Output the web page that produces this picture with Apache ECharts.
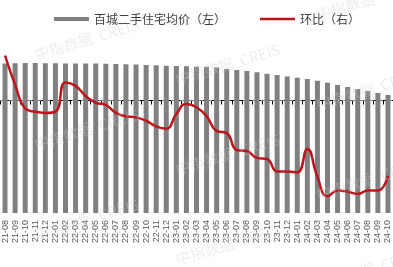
<!DOCTYPE html>
<html>
<head>
<meta charset="utf-8">
<script src="https://cdn.jsdelivr.net/npm/echarts@6/dist/echarts.min.js"></script>
<style>
html,body{margin:0;padding:0;background:#fff;}
#c{width:393px;height:267px;}
</style>
</head>
<body>
<div id="c"></div>
<script>
var categories = ['21-08','21-09','21-10','21-11','21-12','22-01','22-02','22-03','22-04','22-05','22-06','22-07','22-08','22-09','22-10','22-11','22-12','23-01','23-02','23-03','23-04','23-05','23-06','23-07','23-08','23-09','23-10','23-11','23-12','24-01','24-02','24-03','24-04','24-05','24-06','24-07','24-08','24-09','24-10'];
var priceValues = [16310,16320,16330,16330,16320,16320,16310,16310,16300,16300,16290,16280,16260,16250,16220,16210,16180,16170,16150,16130,16130,16090,16000,15940,15890,15820,15740,15670,15590,15520,15440,15350,15240,15110,15000,14890,14780,14670,14560];
var momValues = [0.40,0.14,-0.07,-0.10,-0.11,-0.10,0.16,0.13,0.04,-0.02,-0.04,-0.11,-0.14,-0.15,-0.18,-0.23,-0.25,-0.12,-0.03,-0.06,-0.14,-0.27,-0.29,-0.44,-0.45,-0.51,-0.52,-0.63,-0.63,-0.64,-0.43,-0.68,-0.85,-0.80,-0.81,-0.83,-0.80,-0.80,-0.67];
var seriesNames = ['百城二手住宅均价（左）','环比（右）'];
var watermarkText = '中指数据  CREIS';

var chart = echarts.init(document.getElementById('c'), null, {renderer:'canvas'});

var wm = [];
var starts = [[37,62],[178,87],[319,112]];
for (var i = 0; i < starts.length; i++) {
  for (var j = -1; j <= 2; j++) {
    wm.push({
      type:'text', x: starts[i][0], y: starts[i][1] + 90*j, rotation: 0.29, z: 100,
      silent:true,
      style:{text: watermarkText, x:0, y:0, fill:'rgba(205,205,205,0.35)', font:'15px "Noto Sans CJK SC", sans-serif', textVerticalAlign:'bottom'}
    });
  }
}

chart.setOption({
  animation:false,
  backgroundColor:'#fff',
  textStyle:{fontFamily:'"Noto Sans CJK SC", "Liberation Sans", sans-serif'},
  legend:{
    left:49, top:8, itemWidth:35, itemHeight:4, itemGap:34,
    textStyle:{fontSize:12, color:'#404040', fontFamily:'"Noto Sans CJK SC", sans-serif'},
    data:[
      {name:seriesNames[0], icon:'rect'},
      {name:seriesNames[1], icon:'path://M0,0H35V2.5H0Z', itemStyle:{color:'#c0141c'}}
    ]
  },
  grid:{left:-3, right:-4, top:33, bottom:54},
  xAxis:{
    type:'category', data:categories, boundaryGap:true,
    axisLine:{lineStyle:{color:'#000', width:1}},
    axisTick:{show:true, length:4, lineStyle:{color:'#000'}},
    axisLabel:{rotate:90, interval:0, fontSize:9, color:'#595959', margin:7, fontFamily:'"Liberation Sans", Arial, sans-serif'}
  },
  yAxis:[
    {type:'value', min:8000, max:18000, show:false, splitLine:{show:false}},
    {type:'value', min:-1, max:0.6, show:false, splitLine:{show:false}}
  ],
  series:[
    {name:seriesNames[0], type:'bar', data:priceValues, yAxisIndex:0, barWidth:5, itemStyle:{color:'#808080'}},
    {name:seriesNames[1], type:'line', data:momValues, yAxisIndex:1, smooth:true, symbol:'none',
     lineStyle:{color:'#c0141c', width:2.5}, itemStyle:{color:'#c0141c'}, z:5,
     markLine:{silent:true, symbol:['none','none'], label:{show:false},
       lineStyle:{color:'#7f7f7f', type:[5,4], width:1},
       data:[{yAxis:0}]}}
  ],
  graphic: wm
});
</script>
</body>
</html>
